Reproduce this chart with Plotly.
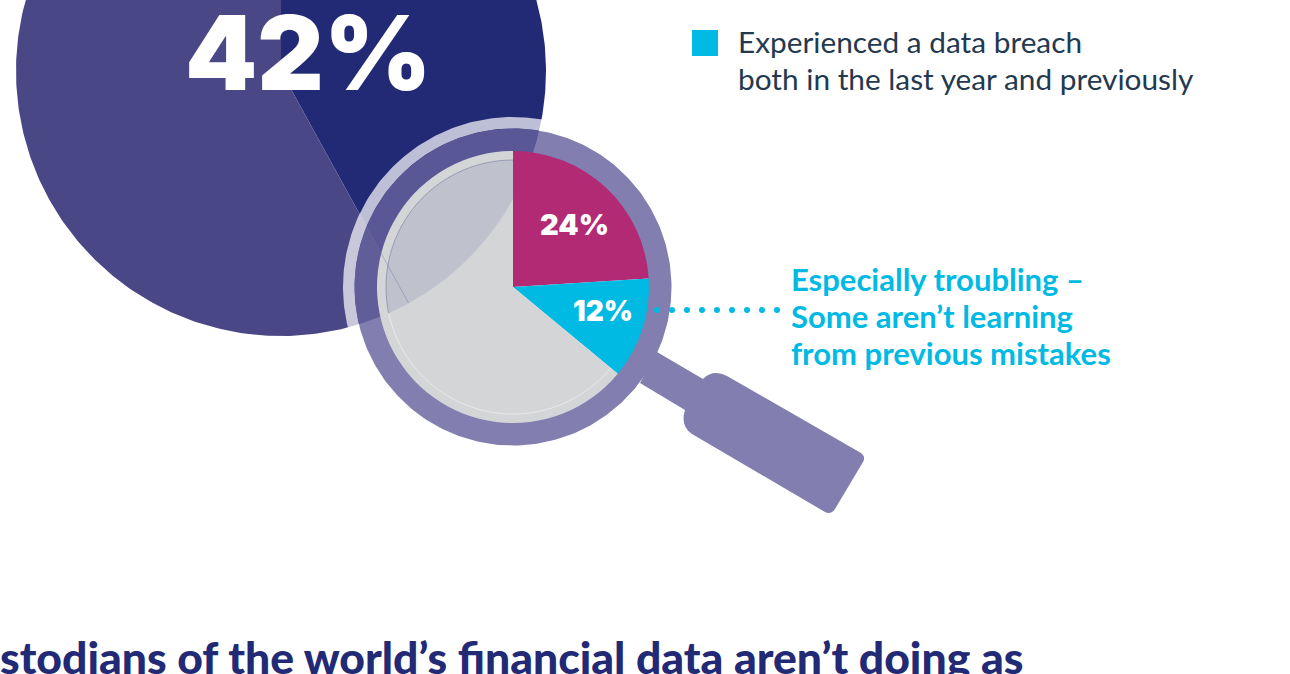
import numpy as np
import plotly.graph_objects as go

# --- data ---
big_labels = ["Experienced a data breach in the last year", "Did not"]
big_values = [42, 58]
big_colors = ["#232A75", "#4A4786"]
small_labels = ["Breached in the last year", "Breached both in the last year and previously", "Other"]
small_values = [24, 12, 64]
small_colors = ["#B22974", "#00BAE3", "#D3D5D7"]
big_text = "42%"
small_texts = ["24%", "12%"]
legend_lines = ["Experienced a data breach", "both in the last year and previously"]
callout_lines = ["Especially troubling –", "Some aren’t learning", "from previous mistakes"]
title_text = "stodians of the world’s financial data aren’t doing as"

W, H = 1290, 674
BIG_C, BIG_R = (281, 71), 265
LENS_C, PIE_R, LENS_IN, RING_R, HALO_R = (513, 287), 136, 127, 158.5, 170
CYAN, NAVY = "#00BAE3", "#232A75"


def wedge(cx, cy, r, a0, a1):
    t = np.radians(np.linspace(a0, a1, 240))
    return (np.r_[cx, cx + r * np.sin(t), cx].tolist(),
            np.r_[cy, cy - r * np.cos(t), cy].tolist())


def annulus(cx, cy, r0, r1):
    t = np.linspace(0, 2 * np.pi, 361)
    xs = np.r_[cx + r1 * np.cos(t), None, cx + r0 * np.cos(t[::-1])]
    ys = np.r_[cy + r1 * np.sin(t), None, cy + r0 * np.sin(t[::-1])]
    return xs.tolist(), ys.tolist()


def svg(points, close=True):
    return "M" + " L".join(f"{x:.2f},{y:.2f}" for x, y in points) + (" Z" if close else "")


def lens_arc(a0, a1):
    """Points on the lens circle, clockwise angles from 12 o'clock, in degrees."""
    t = np.radians(np.linspace(a0, a1, 120))
    return [(LENS_C[0] + LENS_IN * np.sin(a), LENS_C[1] - LENS_IN * np.cos(a)) for a in t]


fig = go.Figure()

# big pie, cropped by the top of the page
start = 0
for lab, val, col in zip(big_labels, big_values, big_colors):
    end = start + val * 3.6
    x, y = wedge(*BIG_C, BIG_R, start, end)
    fig.add_trace(go.Scatter(x=x, y=y, mode="lines", fill="toself", fillcolor=col,
                             line=dict(width=0, color=col), name=lab, hoverinfo="name"))
    start = end

# magnifier: halo and ring
for r0, r1, col in [(RING_R, HALO_R, "rgba(255,255,255,0.70)"),
                    (PIE_R - 1, RING_R, "rgba(103,98,157,0.82)")]:
    x, y = annulus(*LENS_C, r0, r1)
    fig.add_trace(go.Scatter(x=x, y=y, mode="lines", fill="toself", fillcolor=col,
                             line=dict(width=0), hoverinfo="skip"))

# dotted leader
fig.add_trace(go.Scatter(x=np.linspace(657, 777, 9).tolist(), y=[310] * 9, mode="markers",
                         marker=dict(size=6, color=CYAN), hoverinfo="skip"))

# small pie inside the lens
fig.add_trace(go.Pie(labels=small_labels, values=small_values, sort=False, direction="clockwise",
                     rotation=0, textinfo="none", hoverinfo="label+percent",
                     marker=dict(colors=small_colors, line=dict(width=0)),
                     domain=dict(x=[(LENS_C[0] - PIE_R) / W, (LENS_C[0] + PIE_R) / W],
                                 y=[1 - (LENS_C[1] + PIE_R) / H, 1 - (LENS_C[1] - PIE_R) / H])))

# big pie seen through the lens: lens circle ∩ big disc, left of the first slice edge
d = np.hypot(LENS_C[0] - BIG_C[0], LENS_C[1] - BIG_C[1])
base = np.arctan2(BIG_C[1] - LENS_C[1], BIG_C[0] - LENS_C[0])
half = np.arccos((d**2 + LENS_IN**2 - BIG_R**2) / (2 * d * LENS_IN))
a_low = (base - half) % (2 * np.pi)
lens_angles = np.linspace(a_low, 1.5 * np.pi, 120)
pts = [(LENS_C[0] + LENS_IN * np.cos(a), LENS_C[1] + LENS_IN * np.sin(a)) for a in lens_angles]
b0 = np.arctan2(pts[0][1] - BIG_C[1], pts[0][0] - BIG_C[0])
b1 = np.arccos((LENS_C[0] - BIG_C[0]) / BIG_R)
pts += [(BIG_C[0] + BIG_R * np.cos(b), BIG_C[1] + BIG_R * np.sin(b)) for b in np.linspace(b1, b0, 120)]
meet = np.degrees(a_low + np.pi / 2)  # where the big disc edge meets the lens circle

# slice edge of the big pie, seen faintly through the lens
ang = np.radians(big_values[0] * 3.6)
ux, uy = np.sin(ang), -np.cos(ang)
fx, fy = BIG_C[0] - LENS_C[0], BIG_C[1] - LENS_C[1]
b = fx * ux + fy * uy
s = -b - np.sqrt(b * b - (fx * fx + fy * fy - PIE_R**2))

HANDLE = ("M657,352 L703,379 Q713,369 727,376 L861,453 Q866,457 863,462 L835,509 Q831,515 825,512 "
          "L692,434 Q680,426 685,410 L640,383 Z")

grey_start = (small_values[0] + small_values[1]) * 3.6
shapes = [
    dict(type="path", path=HANDLE, fillcolor="#827EAF", line_width=0),
    dict(type="rect", x0=692, x1=718, y0=30, y1=56, fillcolor=CYAN, line_width=0),
    dict(type="path", path=svg(pts), fillcolor="rgba(35,42,117,0.11)", line_width=0),
    dict(type="line", x0=BIG_C[0] + s * ux, y0=BIG_C[1] + s * uy,
         x1=BIG_C[0] + BIG_R * ux, y1=BIG_C[1] + BIG_R * uy,
         line=dict(color="rgba(35,42,117,0.22)", width=1)),
    dict(type="path", path=svg(lens_arc(grey_start, meet), close=False),
         line=dict(color="rgba(255,255,255,0.45)", width=1)),
    dict(type="path", path=svg(lens_arc(meet, 360), close=False),
         line=dict(color="rgba(35,42,117,0.30)", width=1)),
]


def note(x, y, text, size, color, weight, anchor="left", family="Lato"):
    return dict(x=x, y=y, text=text, showarrow=False, xanchor=anchor, yanchor="middle",
                font=dict(family=family, size=size, color=color, weight=weight))


annotations = [
    note(308, 52, big_text, 103, "white", 900, "center", "Inter"),
    note(574.5, 224, small_texts[0], 29, "white", 900, "center", "Inter"),
    note(603, 311, small_texts[1], 28, "white", 900, "center", "Inter"),
]
annotations += [note(735.5, yy, t, 29.8, "#24394F", 400) for yy, t in zip([41, 78], legend_lines)]
annotations += [note(789, yy, t, 31, CYAN, 700) for yy, t in zip([279, 316, 353], callout_lines)]
annotations.append(note(1025, 656, title_text, 44.5, NAVY, 900, "right"))

fig.update_layout(
    width=W, height=H, margin=dict(l=0, r=0, t=0, b=0), showlegend=False,
    paper_bgcolor="white", plot_bgcolor="rgba(0,0,0,0)",
    xaxis=dict(range=[0, W], visible=False, fixedrange=True),
    yaxis=dict(range=[H, 0], visible=False, fixedrange=True),
    shapes=shapes, annotations=annotations,
)
fig.write_html("out.html", config=dict(displayModeBar=False),
               post_script="document.body.style.margin='0';")
